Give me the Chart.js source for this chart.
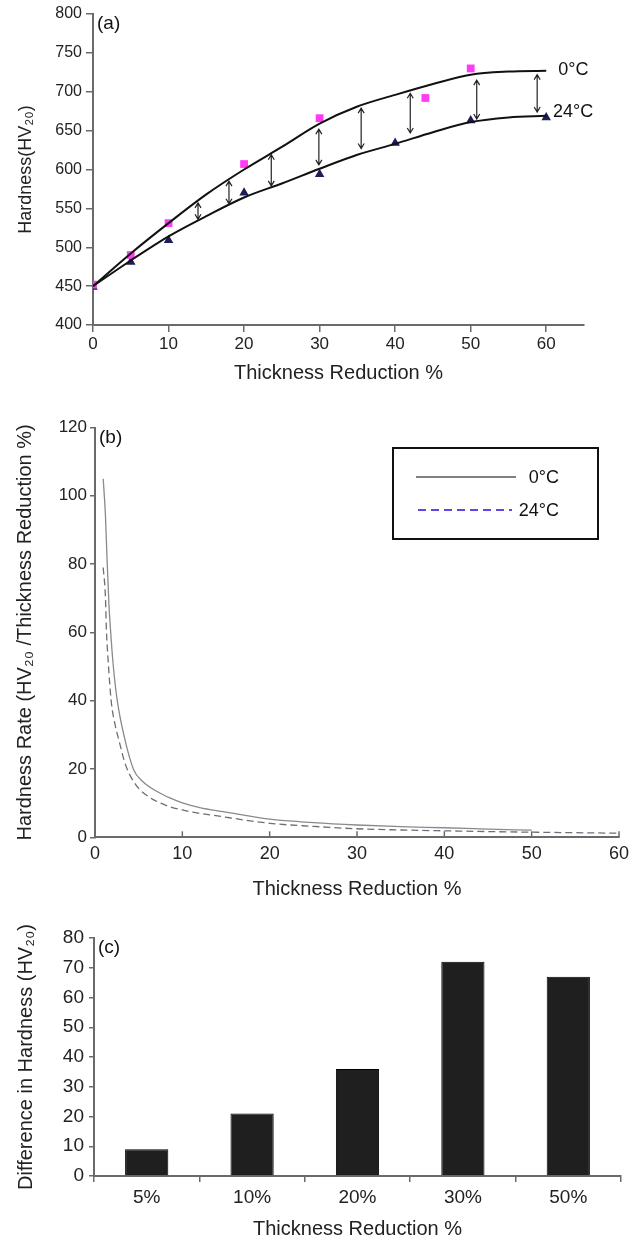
<!DOCTYPE html>
<html><head><meta charset="utf-8">
<script src="https://cdn.jsdelivr.net/npm/chart.js@4.4.0/dist/chart.umd.min.js"></script>
<style>
html,body{margin:0;padding:0;background:#fff;}
.p{position:absolute;left:0;width:644px;}
</style></head><body>
<div class="p" style="top:0;height:395px"><canvas id="ca"></canvas></div>
<div class="p" style="top:395px;height:515px"><canvas id="cb"></canvas></div>
<div class="p" style="top:910px;height:332px"><canvas id="cc"></canvas></div>
<script>
// ---------- Panel (a) data ----------
const fitReduction = [0, 5, 10, 15, 20, 25, 30, 35, 40, 45, 50, 55, 60];
const fit0C  = [450, 492, 531, 568, 600, 629, 659, 681, 696, 710, 722, 726, 727];
const fit24C = [450, 483, 514, 540, 564, 582, 601, 619, 633, 648, 661, 667, 669];
const meas0X  = [0, 5, 10, 20, 30, 44, 50];
const meas0Y  = [452, 490, 531, 607, 666, 692, 730];
const meas24X = [0, 5, 10, 20, 30, 40, 50, 60];
const meas24Y = [449, 481, 509, 570, 594, 634, 663, 667];
const arrowX      = [13.9, 18.0, 23.6, 29.9, 35.5, 42.0, 50.8, 58.8];
const arrowTop    = [557, 585, 619, 652, 679, 698, 715, 722];
const arrowBottom = [536, 556, 579, 606, 627, 647, 665, 674];

// ---------- Panel (b) data ----------
const rate0X  = [0.94, 1.2, 1.4, 1.6, 1.77, 2.1, 2.55, 3.3, 4.44, 5.4, 7.1, 8.5, 10, 12, 14.7, 20, 25, 30, 35, 40, 45, 50];
const rate0Y  = [105, 94, 80, 68, 61, 50, 40, 30, 19.7, 16.5, 13.4, 11.6, 10.1, 8.7, 7.5, 5.3, 4.3, 3.6, 3.1, 2.8, 2.4, 2.1];
const rate24X = [0.94, 1.2, 1.3, 1.5, 1.85, 2.3, 2.73, 3.5, 4.5, 5.6, 7.5, 10, 14.7, 20, 25, 30, 40, 50, 60];
const rate24Y = [79, 70, 61, 52, 40, 33, 28.5, 21.2, 16, 12.9, 10, 8, 6, 4.1, 3.2, 2.5, 1.9, 1.5, 1.2];

// ---------- Panel (c) data ----------
const barCategories = ['5%', '10%', '20%', '30%', '50%'];
const barValues = [9, 21, 36, 72, 67];

const FONT = "'Liberation Sans', Arial, Helvetica, sans-serif";
Chart.defaults.font.family = FONT;
Chart.defaults.color = '#222';
Chart.defaults.animation = false;

const AX = '#6a6a6a';
function gridOpt(len, draw = true) {
  return { drawOnChartArea: false, drawTicks: draw, tickLength: len, color: AX, lineWidth: 1.5 };
}
const border = { color: AX, width: 2 };

function tagPlugin(txt) {
  return { id: 'tag' + txt, afterDraw(chart) {
    const c = chart.ctx, a = chart.chartArea;
    c.save(); c.font = '19px ' + FONT; c.fillStyle = '#111';
    c.textBaseline = 'middle'; c.textAlign = 'left';
    c.fillText(txt, a.left + 4, a.top + 10);
    c.restore();
  }};
}

// ---------- Chart (a) ----------
const arrowPlugin = { id: 'arrows', afterDatasetsDraw(chart) {
  const c = chart.ctx, xs = chart.scales.x, ys = chart.scales.y;
  c.save(); c.strokeStyle = '#222'; c.lineWidth = 1.2;
  arrowX.forEach((xv, i) => {
    const x = xs.getPixelForValue(xv);
    const y1 = ys.getPixelForValue(arrowTop[i]);
    const y2 = ys.getPixelForValue(arrowBottom[i]);
    c.beginPath(); c.moveTo(x, y1); c.lineTo(x, y2);
    c.moveTo(x - 3, y1 + 5); c.lineTo(x, y1); c.lineTo(x + 3, y1 + 5);
    c.moveTo(x - 3, y2 - 5); c.lineTo(x, y2); c.lineTo(x + 3, y2 - 5);
    c.stroke();
  });
  c.font = '18px ' + FONT; c.fillStyle = '#111'; c.textBaseline = 'middle'; c.textAlign = 'left';
  c.fillText('0°C', xs.getPixelForValue(61.6), ys.getPixelForValue(728));
  c.fillText('24°C', xs.getPixelForValue(60.9), ys.getPixelForValue(674));
  c.restore();
}};

new Chart(document.getElementById('ca'), {
  type: 'scatter',
  data: { datasets: [
    { label: '0°C fit', data: fitReduction.map((x, i) => ({ x, y: fit0C[i] })), showLine: true,
      borderColor: '#111', borderWidth: 2, pointRadius: 0, cubicInterpolationMode: 'monotone' },
    { label: '24°C fit', data: fitReduction.map((x, i) => ({ x, y: fit24C[i] })), showLine: true,
      borderColor: '#111', borderWidth: 2, pointRadius: 0, cubicInterpolationMode: 'monotone' },
    { label: '0°C', data: meas0X.map((x, i) => ({ x, y: meas0Y[i] })), pointStyle: 'rect',
      pointRadius: 5.5, backgroundColor: '#ff3cf5', borderColor: '#ff3cf5', borderWidth: 0 },
    { label: '24°C', data: meas24X.map((x, i) => ({ x, y: meas24Y[i] })), pointStyle: 'triangle',
      pointRadius: 5.5, backgroundColor: '#1d1d5a', borderColor: '#1d1d5a', borderWidth: 0 }
  ]},
  options: {
    responsive: true, maintainAspectRatio: false, devicePixelRatio: 1,
    layout: { padding: { left: 0, top: 14, right: 60, bottom: 0 } },
    plugins: { legend: { display: false }, tooltip: { enabled: false } },
    scales: {
      x: { type: 'linear', min: 0, max: 65,
        ticks: { stepSize: 10, includeBounds: false, padding: 2, font: { size: 17 }, color: '#222' },
        grid: gridOpt(7), border,
        title: { display: true, text: 'Thickness Reduction %', font: { size: 20 }, color: '#222', padding: { top: 0, bottom: 10 } },
        afterFit(s) { s.height = 70; } },
      y: { min: 400, max: 800,
        ticks: { stepSize: 50, padding: 4, font: { size: 16 }, color: '#222' },
        grid: gridOpt(7), border,
        title: { display: true, text: 'Hardness(HV₂₀)', font: { size: 18 }, color: '#222', padding: { top: 15, bottom: 0 } },
        afterFit(s) { s.width = 93; } }
    }
  },
  plugins: [arrowPlugin, tagPlugin('(a)')]
});

// ---------- Chart (b) ----------
const legendB = { id: 'legendB', afterDraw(chart) {
  const c = chart.ctx;
  const ds = chart.data.datasets;
  c.save();
  c.strokeStyle = '#111'; c.lineWidth = 2;
  c.strokeRect(393, 53, 205, 91);
  c.lineWidth = 2;
  c.strokeStyle = '#808080'; c.setLineDash([]);
  c.beginPath(); c.moveTo(416, 82); c.lineTo(516, 82); c.stroke();
  c.strokeStyle = '#5b48e8'; c.setLineDash([8, 5]);
  c.beginPath(); c.moveTo(418, 115); c.lineTo(512, 115); c.stroke();
  c.setLineDash([]);
  c.font = '18px ' + FONT; c.fillStyle = '#111'; c.textBaseline = 'middle'; c.textAlign = 'right';
  c.fillText(ds[0].label, 559, 83);
  c.fillText(ds[1].label, 559, 116);
  c.restore();
}};
const innerTicks = { id: 'innerTicks', afterDraw(chart) {
  const c = chart.ctx, xs = chart.scales.x, a = chart.chartArea;
  c.save(); c.strokeStyle = AX; c.lineWidth = 1.5;
  xs.ticks.forEach((t, i) => {
    if (i === 0) return;
    const x = xs.getPixelForTick(i);
    c.beginPath(); c.moveTo(x, a.bottom); c.lineTo(x, a.bottom - 6); c.stroke();
  });
  c.restore();
}};

new Chart(document.getElementById('cb'), {
  type: 'scatter',
  data: { datasets: [
    { label: '0°C', data: rate0X.map((x, i) => ({ x, y: rate0Y[i] })), showLine: true,
      borderColor: '#8a8a8a', borderWidth: 1.3, pointRadius: 0, cubicInterpolationMode: 'monotone' },
    { label: '24°C', data: rate24X.map((x, i) => ({ x, y: rate24Y[i] })), showLine: true,
      borderColor: '#6e6e7a', borderWidth: 1.3, borderDash: [7, 4], pointRadius: 0, cubicInterpolationMode: 'monotone' }
  ]},
  options: {
    responsive: true, maintainAspectRatio: false, devicePixelRatio: 1,
    layout: { padding: { left: 0, top: 32.5, right: 25, bottom: 0 } },
    plugins: { legend: { display: false }, tooltip: { enabled: false } },
    scales: {
      x: { type: 'linear', min: 0, max: 60,
        ticks: { stepSize: 10, padding: 6, font: { size: 18 }, color: '#222' },
        grid: gridOpt(0, false), border,
        title: { display: true, text: 'Thickness Reduction %', font: { size: 20 }, color: '#222', padding: { top: 0, bottom: 8.6 } },
        afterFit(s) { s.height = 72.7; } },
      y: { min: 0, max: 120,
        ticks: { stepSize: 20, padding: 3, font: { size: 17 }, color: '#222' },
        grid: gridOpt(5), border,
        title: { display: true, text: 'Hardness Rate (HV₂₀ /Thickness Reduction %)', font: { size: 20 }, color: '#222', padding: { top: 13, bottom: 0 } },
        afterFit(s) { s.width = 95; } }
    }
  },
  plugins: [legendB, innerTicks, tagPlugin('(b)')]
});

// ---------- Chart (c) ----------
new Chart(document.getElementById('cc'), {
  type: 'bar',
  data: { labels: barCategories, datasets: [
    { label: 'Difference in Hardness', data: barValues, backgroundColor: '#1f1f1f', borderColor: '#000',
      borderWidth: 1, barPercentage: 0.41, categoryPercentage: 1 }
  ]},
  options: {
    responsive: true, maintainAspectRatio: false, devicePixelRatio: 1,
    layout: { padding: { left: 0, top: 28, right: 23, bottom: 0 } },
    plugins: { legend: { display: false }, tooltip: { enabled: false } },
    scales: {
      x: { ticks: { padding: 4, font: { size: 19 }, color: '#222' },
        grid: Object.assign(gridOpt(6), { offset: true }), border,
        title: { display: true, text: 'Thickness Reduction %', font: { size: 20 }, color: '#222', padding: { top: 0, bottom: 1 } },
        afterFit(s) { s.height = 66; } },
      y: { min: 0, max: 80,
        ticks: { stepSize: 10, padding: 5, font: { size: 19 }, color: '#222' },
        grid: gridOpt(5), border,
        title: { display: true, text: 'Difference in Hardness (HV₂₀)', font: { size: 20 }, color: '#222', padding: { top: 14, bottom: 0 } },
        afterFit(s) { s.width = 94; } }
    }
  },
  plugins: [tagPlugin('(c)')]
});
</script></body></html>
